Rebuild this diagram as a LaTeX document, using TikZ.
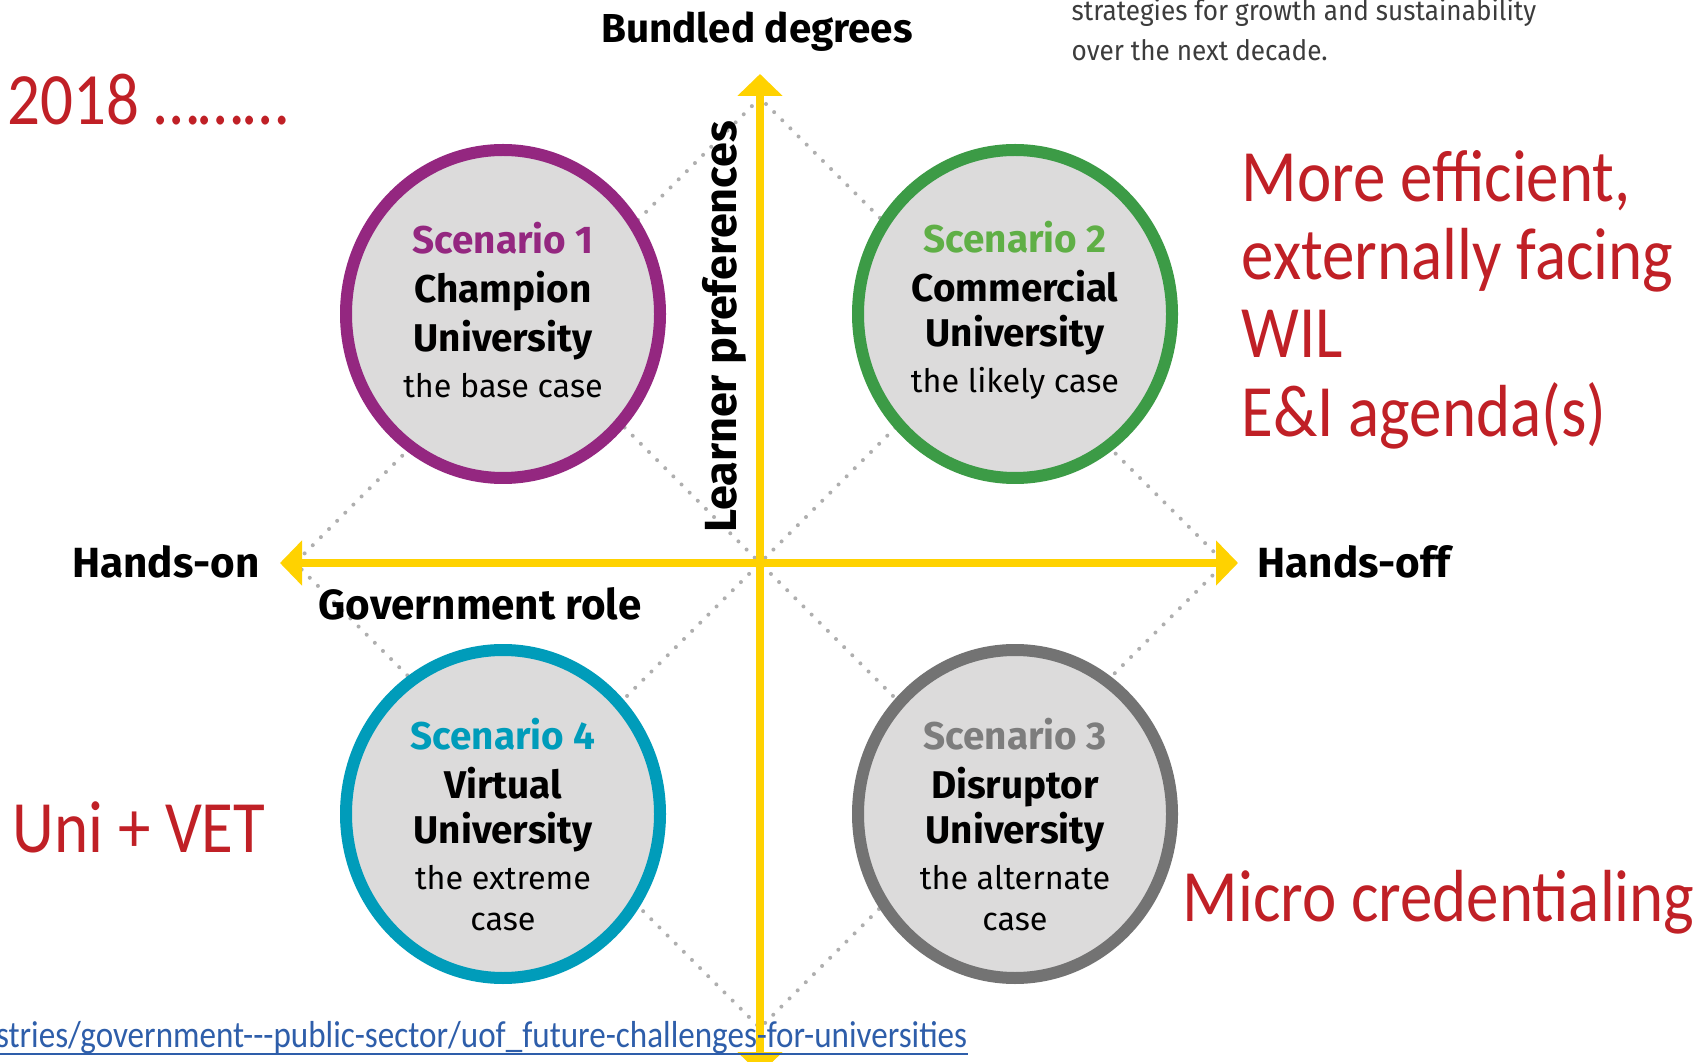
\documentclass[tikz,border=0pt]{standalone}
\usepackage{fontspec}
\setmainfont{Fira Sans}
\newfontfamily\notefont[FakeStretch=0.88]{Carlito}
\newfontfamily\topfont[FakeStretch=0.93]{Fira Sans}
\usetikzlibrary{arrows.meta,shapes.geometric}
\definecolor{axisyellow}{RGB}{255,210,0}
\definecolor{guidegray}{RGB}{175,175,175}
\definecolor{discfill}{RGB}{220,219,219}
\definecolor{scpurple}{RGB}{148,39,128}
\definecolor{scgreen}{RGB}{60,155,70}
\definecolor{scgreentext}{RGB}{95,175,70}
\definecolor{scteal}{RGB}{0,156,186}
\definecolor{scgray}{RGB}{115,115,115}
\definecolor{scgraytext}{RGB}{125,125,125}
\definecolor{notered}{RGB}{192,32,38}
\definecolor{linkblue}{RGB}{46,94,170}
\definecolor{topgray}{RGB}{60,60,60}
\newcommand\casefont{\mdseries\fontsize{9.2}{13}\selectfont}
\tikzset{
	axis/.style={draw=axisyellow, line width=0.8mm, >={Triangle[length=2.2mm,width=4.4mm]}, <->},
	guide/.style={draw=guidegray, line width=0.4mm, line cap=round, dash pattern=on 0pt off 1.15mm},
	disc/.style={ellipse, fill=discfill, line width=1.2mm, minimum width=31.4mm, minimum height=32.8mm, inner sep=0pt},
	scentext/.style={anchor=north, align=center, inner sep=0pt, font=\bfseries\fontsize{11}{13}\selectfont},
	axislabel/.style={inner sep=0pt, font=\bfseries\fontsize{12}{14}\selectfont},
	note/.style={anchor=base west, inner sep=0pt, text=notered, font=\notefont\fontsize{21}{25}\selectfont},
	toptext/.style={anchor=base west, inner sep=0pt, text=topgray, font=\topfont\fontsize{8}{11}\selectfont}
}
\begin{document}
\begin{tikzpicture}[x=0.1mm, y=-0.1mm]
	\fill[white] (0,0) rectangle (1702,1062);
	\useasboundingbox (0,0) rectangle (1702,1062);

	\coordinate (axtop) at (760,74);
	\coordinate (axbot) at (760,1074);
	\coordinate (axleft) at (280,563);
	\coordinate (axright) at (1238,563);
	\coordinate (gtop) at (760,98);
	\coordinate (gleft) at (295,563);
	\coordinate (gbot) at (760,1028);
	\coordinate (gright) at (1225,563);
	\coordinate (xa) at (527,330);
	\coordinate (xb) at (993,796);
	\coordinate (xc) at (993,330);
	\coordinate (xd) at (527,796);

	\draw[guide] (gtop) -- (gleft) -- (gbot) -- (gright) -- cycle;
	\draw[guide] (xa) -- (xb);
	\draw[guide] (xc) -- (xd);
	\draw[axis] (axbot) -- (axtop);
	\draw[axis] (axleft) -- (axright);

	\node (sc1) [disc, draw=scpurple] at (503,314) {};
	\node (sc2) [disc, draw=scgreen] at (1015,314) {};
	\node (sc3) [disc, draw=scgray] at (1015,814) {};
	\node (sc4) [disc, draw=scteal] at (503,814) {};

	\node (sc1txt) [scentext] at (503,221) {\textcolor{scpurple}{Scenario 1}\\[1pt]Champion\\[1pt]University\\\casefont the base case};
	\node (sc2txt) [scentext] at (1015,220) {\textcolor{scgreentext}{Scenario 2}\\[1pt]Commercial\\University\\\casefont the likely case};
	\node (sc3txt) [scentext] at (1015,717) {\textcolor{scgraytext}{Scenario 3}\\[1pt]Disruptor\\University\\\casefont the alternate\\[-1.5pt]\casefont case};
	\node (sc4txt) [scentext] at (503,717) {\textcolor{scteal}{Scenario 4}\\[1pt]Virtual\\University\\\casefont the extreme\\[-1.5pt]\casefont case};

	\node (bundled) [axislabel, anchor=base, font=\bfseries\fontsize{11.5}{14}\selectfont] at (757,43) {Bundled degrees};
	\node (learner) [axislabel, anchor=base, rotate=90, font=\bfseries\fontsize{12.8}{14}\selectfont] at (736,327) {Learner preferences};
	\node (handson) [axislabel, anchor=base east] at (260,578) {Hands-on};
	\node (handsoff) [axislabel, anchor=base west] at (1257,578) {Hands-off};
	\node (govrole) [axislabel, anchor=base west] at (318,620) {Government role};

	\node (topline1) [toptext] at (1071,21) {strategies for growth and sustainability};
	\node (topline2) [toptext] at (1071,61) {over the next decade.};

	\node (year) [note] at (7,125) {2018 ………};
	\node (univet) [note] at (12,852) {Uni + VET};
	\node (micro) [note] at (1182,921) {Micro credentialing};
	\node (effa) [note] at (1241,202) {More efficient,};
	\node (effb) [note] at (1241,280) {externally facing};
	\node (effc) [note] at (1241,358) {WIL};
	\node (effd) [note] at (1241,437) {E\&I agenda(s)};

	\node (link) [anchor=base east, inner sep=0pt, text=linkblue, font=\notefont\fontsize{10.7}{13}\selectfont] at (968,1047) {industries/government---public-sector/uof\_future-challenges-for-universities};
	\draw[linkblue, line width=0.25mm] ([yshift=-2pt]link.base west) -- ([yshift=-2pt]link.base east);
\end{tikzpicture}
\end{document}
